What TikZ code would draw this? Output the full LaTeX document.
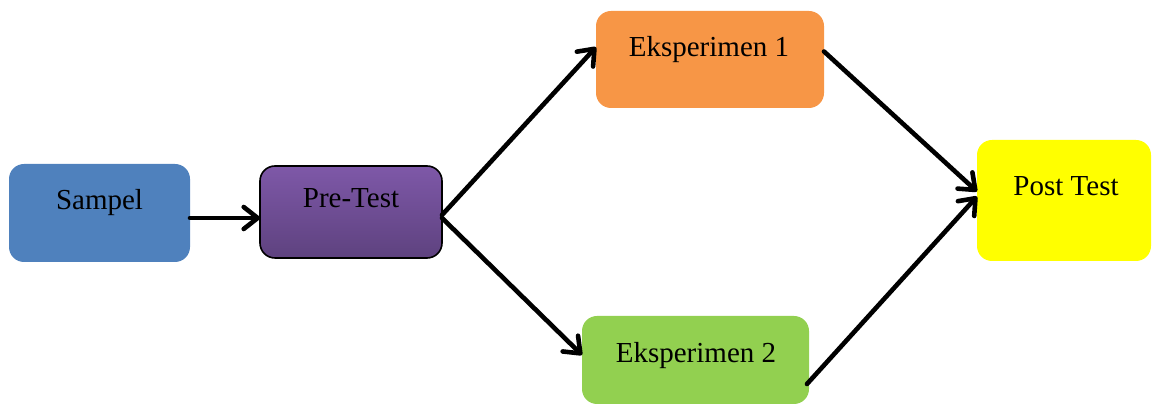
\documentclass[tikz,border=0pt]{standalone}
\usepackage{fontspec}
\setmainfont{Liberation Serif}
\usetikzlibrary{arrows.meta}
\definecolor{sblue}{HTML}{4F81BD}
\definecolor{sorange}{HTML}{F79646}
\definecolor{sgreen}{HTML}{92D050}
\definecolor{syellow}{HTML}{FFFF00}
\definecolor{ptop}{HTML}{7E58A8}
\definecolor{pbot}{HTML}{5E427F}
\begin{document}
\begin{tikzpicture}[x=0.5pt,y=-0.5pt,
  box/.style={rounded corners=7.5pt,inner sep=0pt,outer sep=0pt,draw=none},
  lbl/.style={anchor=base,inner sep=0pt,font=\fontsize{14.5}{17}\selectfont},
  conn/.style={line width=2.3pt,line cap=round,
    -{Straight Barb[length=7pt,width=11pt,line width=2.3pt,line cap=round,line join=round]}}]
\useasboundingbox (0,0) rectangle (1152,405);
% boxes
\node[box,fill=sblue,minimum width=90.5pt,minimum height=49pt] (sampel) at (99.5,213) {};
\node[box,draw=black,line width=0.8pt,top color=ptop,bottom color=pbot,minimum width=91pt,minimum height=46pt] (pre) at (351,212) {};
\node[box,fill=sorange,minimum width=114pt,minimum height=48.5pt] (eks1) at (710,59.5) {};
\node[box,fill=sgreen,minimum width=113.5pt,minimum height=44pt] (eks2) at (695.5,360) {};
\node[box,fill=syellow,minimum width=87pt,minimum height=60.5pt] (post) at (1064,200.5) {};
% labels
\node[lbl] (sampelt) at (99.5,210) {Sampel};
\node[lbl] (pret) at (351,208) {Pre-Test};
\node[lbl] (eks1t) at (709,57) {Eksperimen 1};
\node[lbl] (eks2t) at (696,363) {Eksperimen 2};
\node[lbl] (postt) at (1066,196) {Post Test};
% connectors
\draw[conn] ([yshift=-2.5pt]sampel.east) -- ([yshift=-3pt]pre.west);
\draw[conn] ([yshift=-1.5pt]pre.east) -- ([yshift=6.2pt]eks1.west);
\draw[conn] ([yshift=-3pt]pre.east) -- ([yshift=2.5pt]eks2.west);
\draw[conn] ([yshift=4pt]eks1.east) -- ([yshift=4.5pt]post.west);
\draw[conn] ([xshift=-1pt,yshift=-12pt]eks2.east) -- ([yshift=2pt]post.west);
\end{tikzpicture}
\end{document}
